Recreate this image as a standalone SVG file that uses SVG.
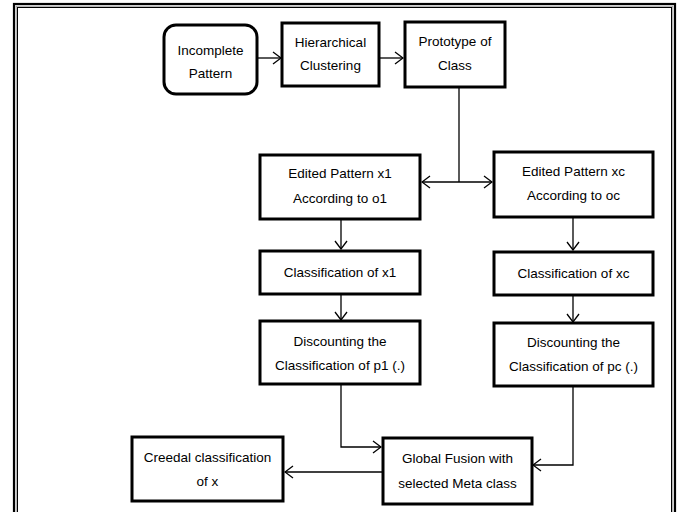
<svg xmlns="http://www.w3.org/2000/svg" width="682" height="512" viewBox="0 0 682 512">
<style>
.box{fill:#fff;stroke:#000;stroke-width:3}
.t{font-family:"Liberation Sans",Arial,sans-serif;font-size:13.5px;fill:#000;text-anchor:middle}
.c{fill:none;stroke:#000;stroke-width:1.3}
</style>
<defs>
<marker id="ah" markerWidth="10" markerHeight="14" refX="9" refY="7" orient="auto" markerUnits="userSpaceOnUse">
<path d="M1,1 L9,7 L1,13" fill="none" stroke="#000" stroke-width="1.3"/>
</marker>
</defs>
<rect width="682" height="512" fill="#fff"/>
<rect x="14" y="4" width="661" height="530" fill="none" stroke="#000" stroke-width="2.2"/>
<rect x="16.2" y="6.2" width="656.6" height="530" fill="none" stroke="#999" stroke-width="1"/>
<rect x="17.5" y="7.5" width="654" height="530" fill="none" stroke="#000" stroke-width="1"/>

<g id="connectors">
<path class="c" d="M257,58 H281" marker-end="url(#ah)"/>
<path class="c" d="M380,58 H403" marker-end="url(#ah)"/>
<path class="c" d="M459,87 V182"/>
<path class="c" d="M459,182 H422" marker-end="url(#ah)"/>
<path class="c" d="M459,182 H492" marker-end="url(#ah)"/>
<path class="c" d="M341,220 V249" marker-end="url(#ah)"/>
<path class="c" d="M573,218 V250" marker-end="url(#ah)"/>
<path class="c" d="M341,295 V320" marker-end="url(#ah)"/>
<path class="c" d="M573,296 V322" marker-end="url(#ah)"/>
<path class="c" d="M341,385 V447 H381" marker-end="url(#ah)"/>
<path class="c" d="M573,387 V465 H533" marker-end="url(#ah)"/>
<path class="c" d="M382,472 H285" marker-end="url(#ah)"/>
</g>

<g id="incomplete">
<rect class="box" x="164" y="25" width="93" height="69" rx="12"/>
<text class="t" x="210.5" y="55">Incomplete</text>
<text class="t" x="210.5" y="78">Pattern</text>
</g>
<g id="hierarchical">
<rect class="box" x="282" y="23" width="97" height="63"/>
<text class="t" x="330.5" y="47">Hierarchical</text>
<text class="t" x="330.5" y="70">Clustering</text>
</g>
<g id="prototype">
<rect class="box" x="405" y="22" width="100" height="65"/>
<text class="t" x="455" y="46">Prototype  of</text>
<text class="t" x="455" y="70">Class</text>
</g>
<g id="edited1">
<rect class="box" x="260" y="155" width="160" height="64"/>
<text class="t" x="340" y="178">Edited Pattern x1</text>
<text class="t" x="340" y="203">According to o1</text>
</g>
<g id="editedc">
<rect class="box" x="494" y="152" width="159" height="65"/>
<text class="t" x="573.5" y="176">Edited Pattern xc</text>
<text class="t" x="573.5" y="200">According to oc</text>
</g>
<g id="class1">
<rect class="box" x="260" y="251" width="160" height="43"/>
<text class="t" x="340" y="277">Classification of x1</text>
</g>
<g id="classc">
<rect class="box" x="494" y="252" width="159" height="43"/>
<text class="t" x="573.5" y="278">Classification of xc</text>
</g>
<g id="disc1">
<rect class="box" x="260" y="321" width="160" height="63"/>
<text class="t" x="340" y="346">Discounting the</text>
<text class="t" x="340" y="370">Classification of p1 (.)</text>
</g>
<g id="discc">
<rect class="box" x="494" y="323" width="159" height="63"/>
<text class="t" x="573.5" y="347">Discounting the</text>
<text class="t" x="573.5" y="371">Classification of pc (.)</text>
</g>
<g id="fusion">
<rect class="box" x="383" y="438" width="149" height="66"/>
<text class="t" x="457.5" y="463">Global Fusion  with</text>
<text class="t" x="457.5" y="488">selected Meta class</text>
</g>
<g id="creedal">
<rect class="box" x="132" y="437" width="151" height="64"/>
<text class="t" x="207.5" y="462">Creedal classification</text>
<text class="t" x="207.5" y="486">of x</text>
</g>
</svg>
